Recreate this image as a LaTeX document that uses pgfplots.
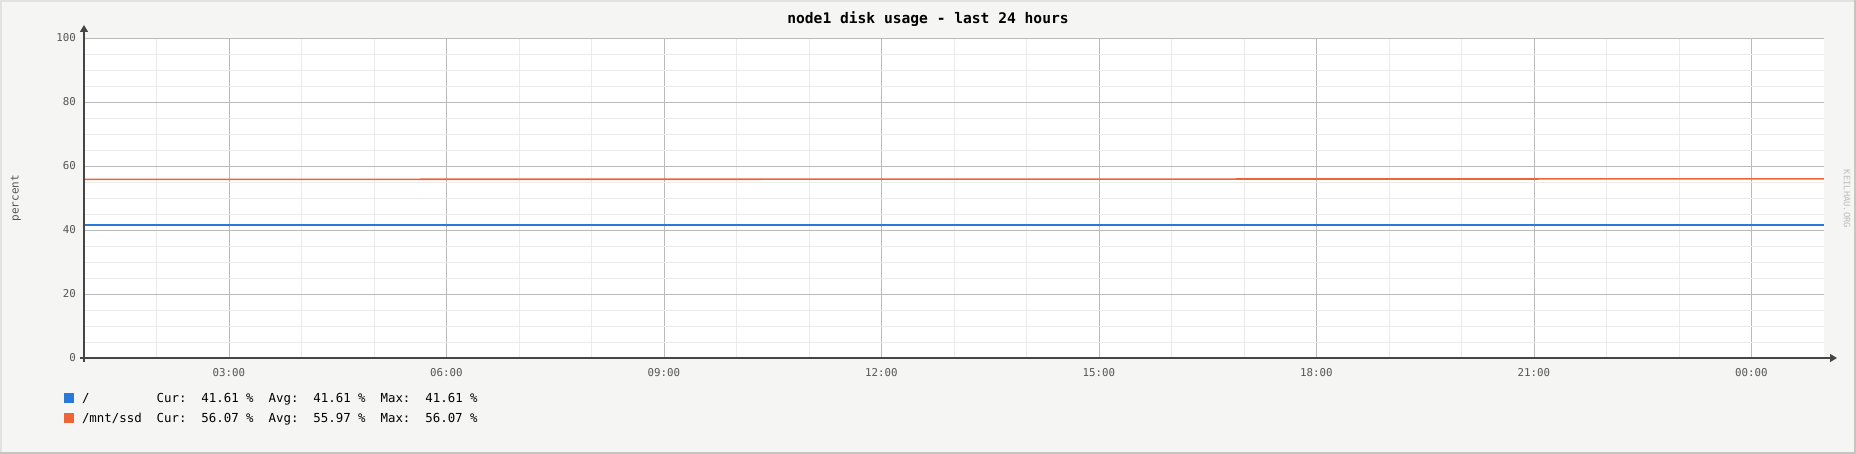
\documentclass[border=0pt]{standalone}
\usepackage{fontspec}
\setmainfont{DejaVu Sans Mono}
\usepackage{pgfplots}
\pgfplotsset{compat=1.18}
\usetikzlibrary{arrows.meta}

\definecolor{bgpanel}{HTML}{F5F5F3}
\definecolor{framelight}{HTML}{E2E2E0}
\definecolor{framedark}{HTML}{C6C6C0}
\definecolor{gridmajor}{HTML}{BABABA}
\definecolor{gridminor}{HTML}{EBEBEB}
\definecolor{axisdark}{HTML}{454545}
\definecolor{ticktext}{HTML}{555555}
\definecolor{rootblue}{HTML}{2A78DA}
\definecolor{ssdorange}{HTML}{EE6438}
\definecolor{watermark}{HTML}{BDBDBD}

\begin{document}
\begin{tikzpicture}
% panel background, 1pt = 1px
\fill[bgpanel] (0pt,0pt) rectangle (1856pt,-454pt);

\begin{axis}[
        at={(84pt,-358pt)}, anchor=south west,
        width=1740pt, height=319.5pt, scale only axis,
        xmin=1, xmax=25, ymin=0, ymax=100,
        xtick={3,6,...,24},
        xticklabels={03:00,06:00,09:00,12:00,15:00,18:00,21:00,00:00},
        minor xtick={2,4,5,7,8,10,11,13,14,16,17,19,20,22,23},
        ytick={0,20,...,100},
        minor ytick={5,10,15,25,30,35,45,50,55,65,70,75,85,90,95},
        grid=both,
        major grid style={gridmajor, line width=0.8pt},
        minor grid style={gridminor, line width=0.8pt},
        axis line style={draw=none},
        major tick length=0pt, minor tick length=0pt,
        axis background/.style={fill=white},
        tick label style={font=\fontsize{10.8}{12}\selectfont, text=ticktext, inner sep=0pt},
        xticklabel style={anchor=north, yshift=-10pt},
        yticklabel style={anchor=east, xshift=-8pt, yshift=0.5pt},
        /pgf/number format/assume math mode=true,
        ylabel={percent},
        every axis y label/.style={at={(rel axis cs:-0.03908,0.5)}, rotate=90, anchor=center,
            font=\fontsize{11}{12}\selectfont, text=ticktext},
        title={node1 disk usage - last 24 hours},
        every axis title/.style={at={(rel axis cs:0.48506,1.0482)}, anchor=base,
            font=\bfseries\fontsize{14.6}{16}\selectfont},
        legend style={at={(axis description cs:-0.011494,-0.1077)}, anchor=north west,
            draw=none, fill=none, inner sep=0pt, outer sep=0pt,
            row sep=8pt, column sep=8pt,
            font=\fontsize{12.4}{14}\selectfont,
            nodes={inner sep=0pt, text height=10pt, text depth=2pt},
            cells={anchor=base west}},
        legend image code/.code={\fill[#1, draw=none] (0pt,-0.5pt) rectangle (10pt,9.5pt);},
    ]

    \addplot[rootblue, line width=1.6pt] coordinates {
            (1, 41.61)
            (25, 41.61)
        };
    \addlegendentry{/~~~~~~~~~Cur:~~41.61~\%~~Avg:~~41.61~\%~~Max:~~41.61~\%}

    \addplot[ssdorange, line width=1.6pt] coordinates {
            (1, 55.9)
            (13, 55.98)
            (25, 56.07)
        };
    \addlegendentry{/mnt/ssd~~Cur:~~56.07~\%~~Avg:~~55.97~\%~~Max:~~56.07~\%}

\end{axis}

% axis lines with arrow heads
\draw[axisdark, line width=1.2pt, -{Triangle[width=8pt,length=7pt]}] (84pt,-362pt) -- (84pt,-25pt);
\draw[axisdark, line width=1.2pt, -{Triangle[width=8pt,length=7pt]}] (80pt,-358pt) -- (1837pt,-358pt);

\node[rotate=-90, text=watermark, font=\fontsize{8.8}{10}\selectfont] at (1847pt,-199pt) {KEILHAU.ORG};

% frame
\draw[framelight, line width=2pt] (0pt,-1pt) -- (1856pt,-1pt);
\draw[framelight, line width=2pt] (1pt,0pt) -- (1pt,-454pt);
\draw[framedark, line width=2pt] (1855pt,0pt) -- (1855pt,-454pt);
\draw[framedark, line width=2pt] (0pt,-453pt) -- (1856pt,-453pt);

\pgfresetboundingbox
\path[use as bounding box] (0pt,0pt) rectangle (1856pt,-454pt);
\end{tikzpicture}
\end{document}
